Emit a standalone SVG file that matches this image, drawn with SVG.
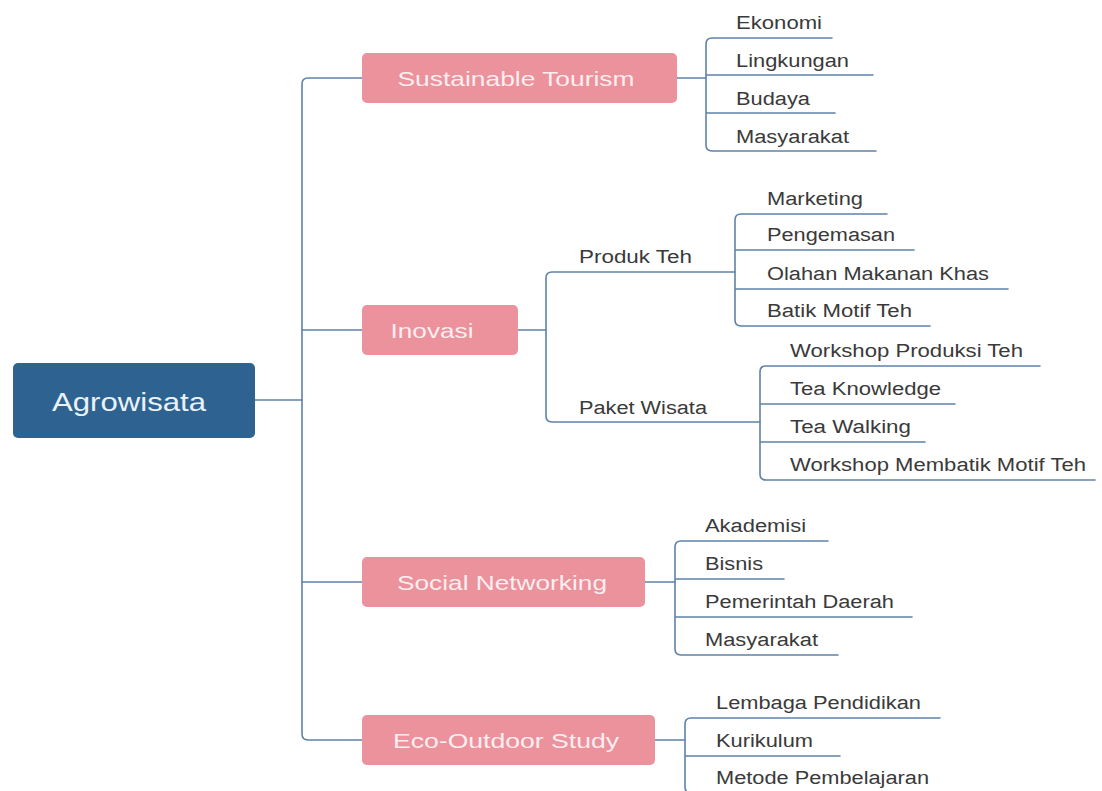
<svg xmlns="http://www.w3.org/2000/svg" width="1102" height="791" viewBox="0 0 1102 791">
<style>
.ln{fill:none;stroke:#5f82a8;stroke-width:1.6;stroke-linecap:round}
.pink{fill:#eb929c}
.root{fill:#2e6391}
.bt{font-family:"Liberation Sans",Arial,sans-serif;font-size:21px;fill:#fdeef0;text-anchor:middle}
.rt{font-family:"Liberation Sans",Arial,sans-serif;font-size:25px;fill:#eaf2f8;text-anchor:middle}
.lf{font-family:"Liberation Sans",Arial,sans-serif;font-size:18px;fill:#3a3a3a}
</style>
<rect width="1102" height="791" fill="#ffffff"/>
<g id="connectors">
<path class="ln" d="M255,400 H302"/>
<path class="ln" d="M362,78 H308 Q302,78 302,84 V734 Q302,740 308,740 H362"/>
<path class="ln" d="M302,330 H362 M302,582 H362"/>
<path class="ln" d="M677,78 H706"/>
<path class="ln" d="M832,38 H712 Q706,38 706,44 V145 Q706,151 712,151 H876 M706,75 H873 M706,113 H835"/>
<path class="ln" d="M518,330 H546"/>
<path class="ln" d="M735,272 H552 Q546,272 546,278 V416 Q546,422 552,422 H760"/>
<path class="ln" d="M887,214 H741 Q735,214 735,220 V320 Q735,326 741,326 H930 M735,250 H914 M735,289 H1008"/>
<path class="ln" d="M1040,366 H766 Q760,366 760,372 V474 Q760,480 766,480 H1095 M760,404 H955 M760,442 H925"/>
<path class="ln" d="M645,582 H675"/>
<path class="ln" d="M828,541 H681 Q675,541 675,547 V649 Q675,655 681,655 H838 M675,579 H784 M675,617 H912"/>
<path class="ln" d="M655,740 H685"/>
<path class="ln" d="M940,718 H691 Q685,718 685,724 V787 Q685,793 691,793 H935 M685,756 H840"/>
</g>
<g id="agrowisata">
<rect class="root" x="13" y="363" width="242" height="75" rx="5"/>
<text class="rt" x="129" y="411" textLength="154" lengthAdjust="spacingAndGlyphs">Agrowisata</text>
</g>
<g id="sustainable-tourism">
<rect class="pink" x="362" y="53" width="315" height="50" rx="5"/>
<text class="bt" x="516" y="86" textLength="237" lengthAdjust="spacingAndGlyphs">Sustainable Tourism</text>
</g>
<g id="inovasi">
<rect class="pink" x="362" y="305" width="156" height="50" rx="5"/>
<text class="bt" x="432" y="338" textLength="83" lengthAdjust="spacingAndGlyphs">Inovasi</text>
</g>
<g id="social-networking">
<rect class="pink" x="362" y="557" width="283" height="50" rx="5"/>
<text class="bt" x="502" y="590" textLength="210" lengthAdjust="spacingAndGlyphs">Social Networking</text>
</g>
<g id="eco-outdoor-study">
<rect class="pink" x="362" y="715" width="293" height="50" rx="5"/>
<text class="bt" x="506" y="748" textLength="226" lengthAdjust="spacingAndGlyphs">Eco-Outdoor Study</text>
</g>
<g id="st-leaves">
<text class="lf" x="736" y="29" textLength="86" lengthAdjust="spacingAndGlyphs">Ekonomi</text>
<text class="lf" x="736" y="67" textLength="113" lengthAdjust="spacingAndGlyphs">Lingkungan</text>
<text class="lf" x="736" y="105" textLength="74" lengthAdjust="spacingAndGlyphs">Budaya</text>
<text class="lf" x="736" y="143" textLength="113" lengthAdjust="spacingAndGlyphs">Masyarakat</text>
</g>
<g id="produk-teh">
<text class="lf" x="579" y="263" textLength="113" lengthAdjust="spacingAndGlyphs">Produk Teh</text>
</g>
<g id="paket-wisata">
<text class="lf" x="579" y="414" textLength="128" lengthAdjust="spacingAndGlyphs">Paket Wisata</text>
</g>
<g id="produk-leaves">
<text class="lf" x="767" y="205" textLength="96" lengthAdjust="spacingAndGlyphs">Marketing</text>
<text class="lf" x="767" y="241" textLength="128" lengthAdjust="spacingAndGlyphs">Pengemasan</text>
<text class="lf" x="767" y="280" textLength="222" lengthAdjust="spacingAndGlyphs">Olahan Makanan Khas</text>
<text class="lf" x="767" y="317" textLength="145" lengthAdjust="spacingAndGlyphs">Batik Motif Teh</text>
</g>
<g id="paket-leaves">
<text class="lf" x="790" y="357" textLength="233" lengthAdjust="spacingAndGlyphs">Workshop Produksi Teh</text>
<text class="lf" x="790" y="395" textLength="151" lengthAdjust="spacingAndGlyphs">Tea Knowledge</text>
<text class="lf" x="790" y="433" textLength="121" lengthAdjust="spacingAndGlyphs">Tea Walking</text>
<text class="lf" x="790" y="471" textLength="296" lengthAdjust="spacingAndGlyphs">Workshop Membatik Motif Teh</text>
</g>
<g id="sn-leaves">
<text class="lf" x="705" y="532" textLength="101" lengthAdjust="spacingAndGlyphs">Akademisi</text>
<text class="lf" x="705" y="570" textLength="58" lengthAdjust="spacingAndGlyphs">Bisnis</text>
<text class="lf" x="705" y="608" textLength="189" lengthAdjust="spacingAndGlyphs">Pemerintah Daerah</text>
<text class="lf" x="705" y="646" textLength="113" lengthAdjust="spacingAndGlyphs">Masyarakat</text>
</g>
<g id="eco-leaves">
<text class="lf" x="716" y="709" textLength="205" lengthAdjust="spacingAndGlyphs">Lembaga Pendidikan</text>
<text class="lf" x="716" y="747" textLength="97" lengthAdjust="spacingAndGlyphs">Kurikulum</text>
<text class="lf" x="716" y="784" textLength="213" lengthAdjust="spacingAndGlyphs">Metode Pembelajaran</text>
</g>
</svg>
